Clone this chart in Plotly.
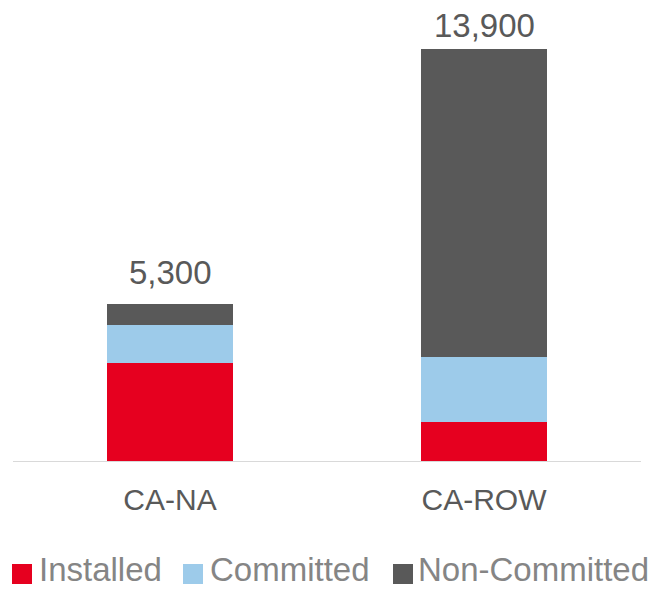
import plotly.graph_objects as go

categories = ["CA-NA", "CA-ROW"]
installed = [3300, 1300]
committed = [1300, 2200]
non_committed = [700, 10400]
series_names = ["Installed", "Committed", "Non-Committed"]
colors = ["#E6001F", "#9DCBEA", "#595959"]

totals = [a + b + c for a, b, c in zip(installed, committed, non_committed)]

W, H = 660, 589
ML, MR, MT, MB = 13, 19, 20, 128
PW, PH = W - ML - MR, H - MT - MB
FONT = "Liberation Sans, Arial, sans-serif"
total_label_shift = [11, 3]

def px_x(p):
    return (p - ML) / PW

def px_y(p):
    return (H - MB - p) / PH

fig = go.Figure()
for name, vals, col in zip(series_names, [installed, committed, non_committed], colors):
    fig.add_trace(go.Bar(x=categories, y=vals, name=name,
                         marker=dict(color=col, line=dict(width=0)), showlegend=False))

for cat, tot, ys in zip(categories, totals, total_label_shift):
    fig.add_annotation(x=cat, y=tot, text=f"{tot:,}", showarrow=False, yanchor="bottom", yshift=ys,
                       font=dict(size=33, color="#595959", family=FONT))

# legend (drawn manually to match the reference spacing)
legend_square_x = [12, 183, 393]
legend_text_x = [37, 208, 416]
for name, col, sx, tx in zip(series_names, colors, legend_square_x, legend_text_x):
    fig.add_shape(type="rect", xref="paper", yref="paper",
                  x0=px_x(sx), x1=px_x(sx + 20), y0=px_y(584), y1=px_y(564),
                  fillcolor=col, line=dict(width=0))
    fig.add_annotation(xref="paper", yref="paper", x=px_x(tx), y=px_y(569),
                       xanchor="left", yanchor="middle", text=name, showarrow=False,
                       font=dict(size=33, color="#858585", family=FONT))

fig.update_layout(
    width=W, height=H,
    barmode="stack", bargap=0.6,
    paper_bgcolor="white", plot_bgcolor="white",
    margin=dict(l=ML, r=MR, t=MT, b=MB),
    font=dict(family=FONT, color="#595959"),
    showlegend=False,
    xaxis=dict(showline=True, linecolor="#D9D9D9", linewidth=1, ticks="",
               tickfont=dict(size=30, color="#595959"), showgrid=False,
               ticklabelstandoff=12),
    yaxis=dict(visible=False, range=[0, 14880], showgrid=False, zeroline=False),
)

fig.write_html("out.html")
